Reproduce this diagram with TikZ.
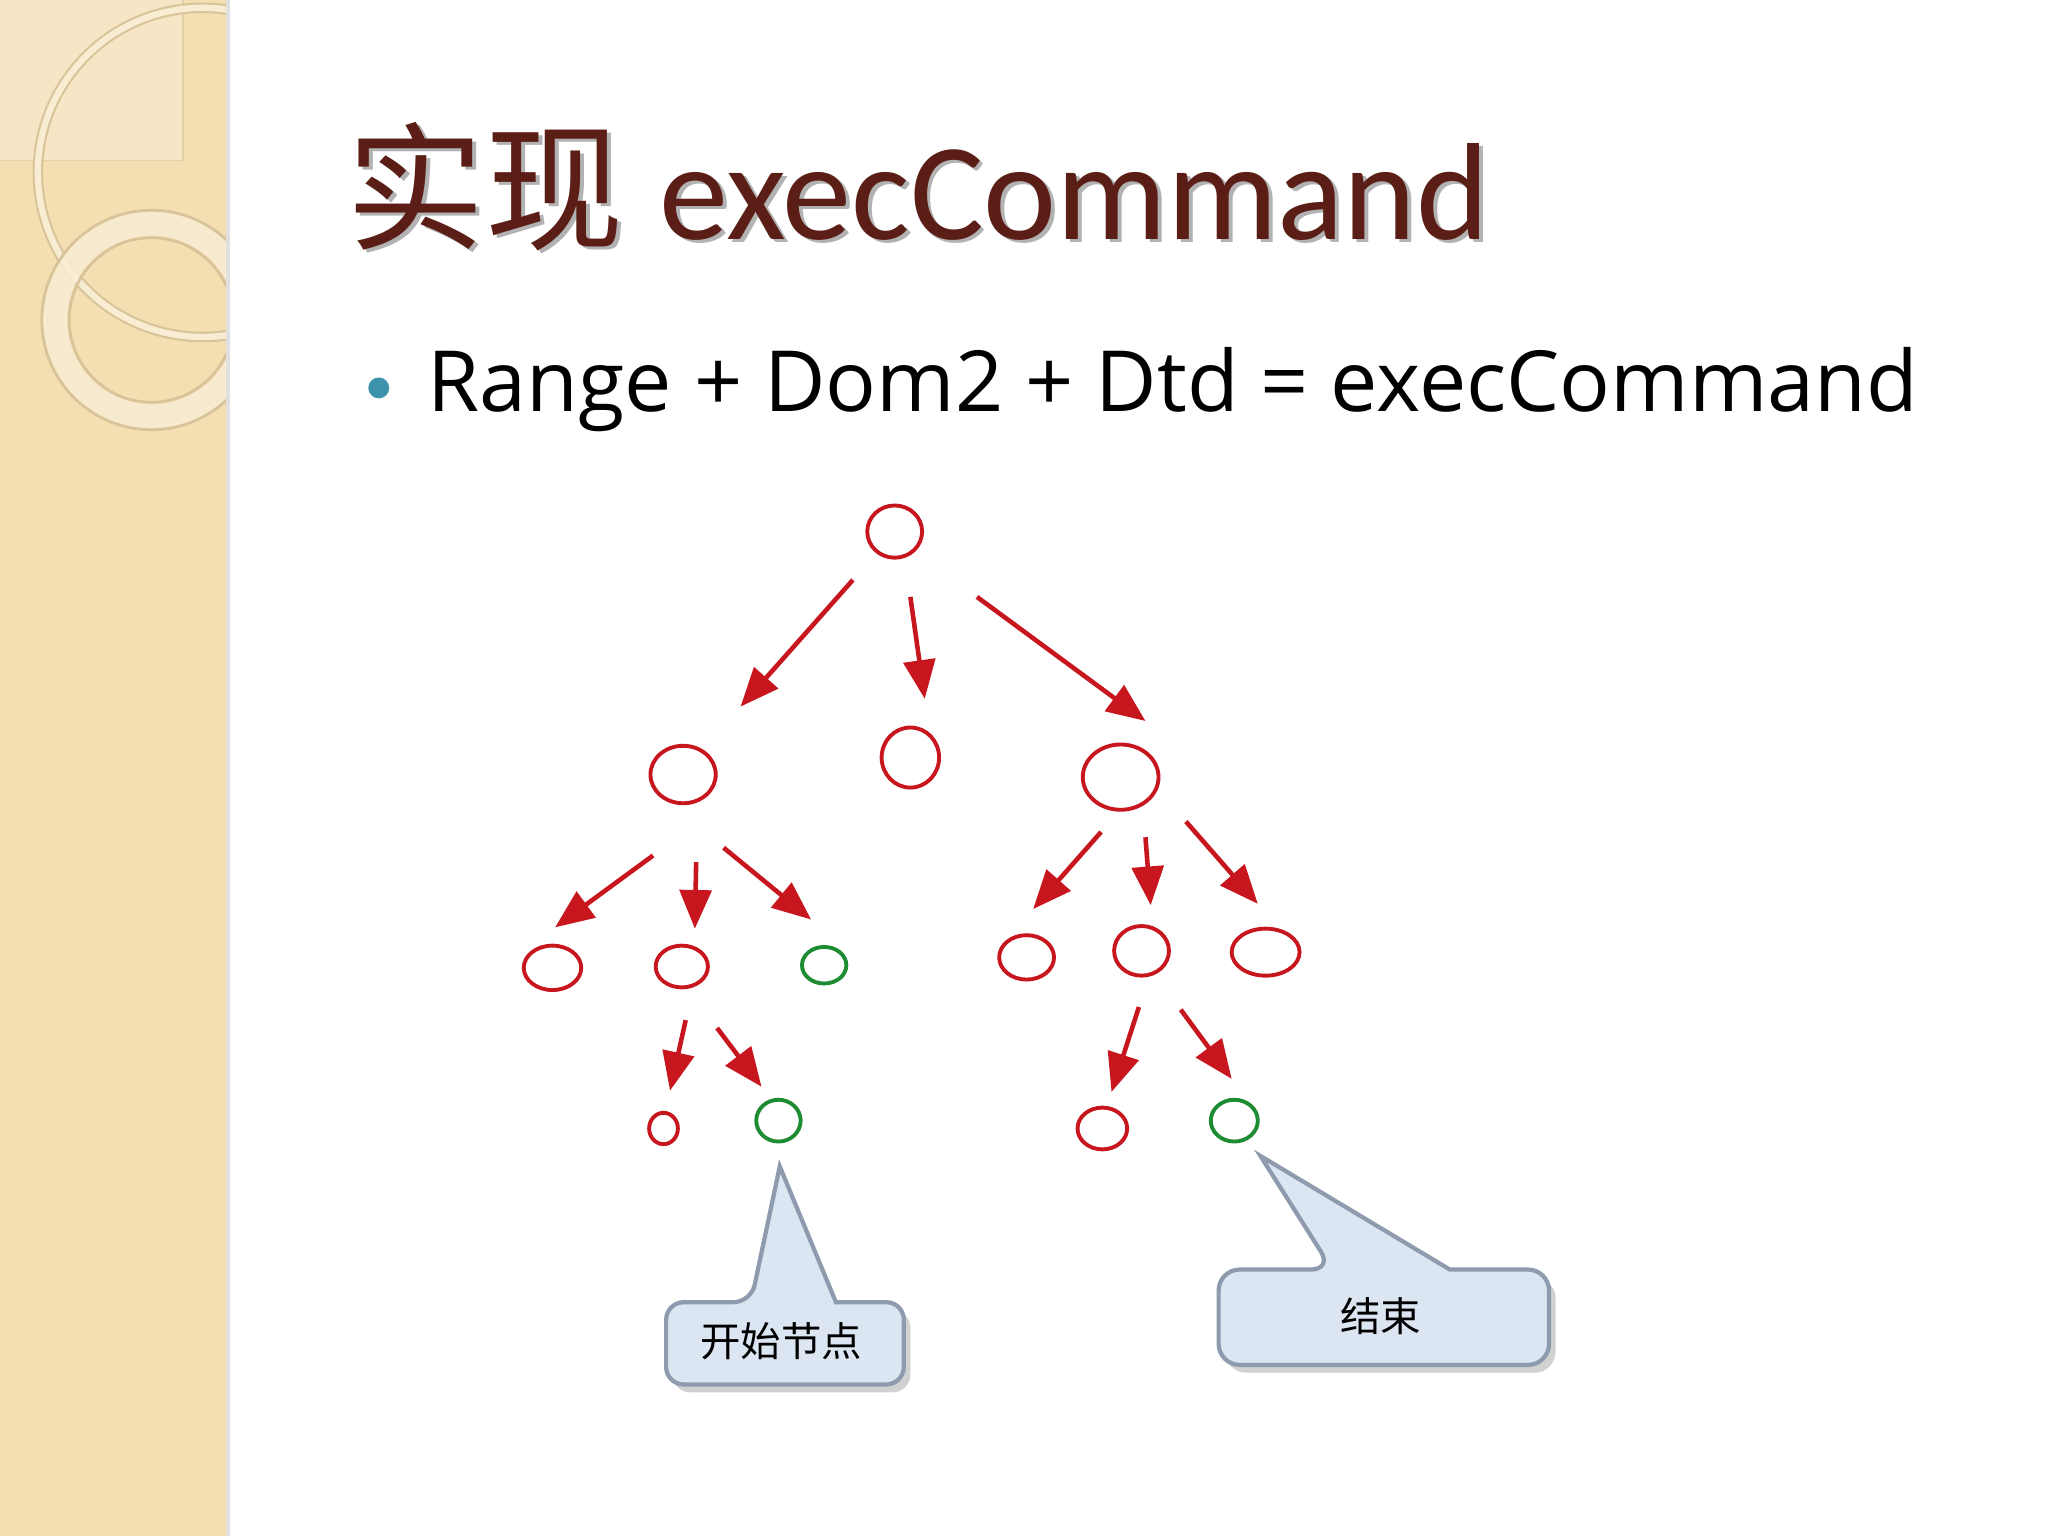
\documentclass[tikz,border=0pt]{standalone}
\usepackage{fontspec}
\usepackage{graphicx}
\setmainfont{Open Sans}
\newfontfamily\cjk{Noto Sans CJK SC}
\newfontfamily\titlefont{Carlito}
\usetikzlibrary{shapes.geometric,arrows.meta}
\definecolor{panel}{HTML}{F3DFB2}
\definecolor{ringc}{HTML}{F8ECD2}
\definecolor{ringe}{HTML}{D9C49A}
\definecolor{ttl}{HTML}{5A1E16}
\definecolor{nred}{HTML}{C8161E}
\definecolor{ngreen}{HTML}{1E8C32}
\definecolor{bul}{HTML}{3C93AB}
\definecolor{callf}{HTML}{DCE6F2}
\definecolor{calle}{HTML}{8E9AAE}
\tikzset{
  nd/.style 2 args={ellipse,inner sep=0pt,line width=1.1pt,
    minimum width={#1*0.026122cm},minimum height={#2*0.026122cm}},
  rn/.style={draw=nred},
  gn/.style={draw=ngreen},
  arr/.style={draw=nred,line width=1.3pt,-{Triangle[length=11pt,width=9pt]}},
  callout/.style={fill=callf,draw=calle,line width=1.2pt},
}
\begin{document}
\begin{tikzpicture}[x=0.013061cm,y=-0.013061cm]
\useasboundingbox (0,0) rectangle (1568,1176);
\fill[white] (0,0) rectangle (1568,1176);
% left panel
\begin{scope}
\clip (0,0) rectangle (173,1176);
\fill[panel] (0,0) rectangle (173,1176);
\fill[ringc,opacity=0.6,draw=ringe] (-5,-5) rectangle (140,123);
\draw[ringe,line width=3pt] (155,132) circle (126);
\draw[ringc,line width=1.8pt] (155,132) circle (126);
\draw[ringc,line width=7pt,opacity=0.9] (116,245) circle (74);
\draw[ringe,line width=0.8pt] (116,245) circle (84);
\draw[ringe,line width=0.8pt] (116,245) circle (63);
\end{scope}
\fill[black!12] (173,0) rectangle (176,1176);
% title
\node[anchor=base west,text=black!30,inner sep=0] at (268,186) {\resizebox{325pt}{!}{{\cjk 实现}\ \titlefont execCommand}};
\node[anchor=base west,text=ttl,inner sep=0] (title) at (265,183) {\resizebox{325pt}{!}{{\cjk 实现}\ \titlefont execCommand}};
% bullet
\fill[bul] (290,297) circle (8);
\node[anchor=base west,inner sep=0] (bline) at (327,315) {\resizebox{424pt}{!}{Range + Dom2 + Dtd = execCommand}};
% tree nodes
\node[nd={21}{20},rn] (r) at (685,407) {};
\node[nd={25}{22},rn] (a) at (523,593) {};
\node[nd={22}{23},rn] (b) at (697,580) {};
\node[nd={29}{25},rn] (c) at (858,595) {};
\node[nd={22}{17},rn] (a1) at (423,741) {};
\node[nd={20}{16},rn] (a2) at (522,740) {};
\node[nd={17}{14},gn] (a3) at (631,739) {};
\node[nd={21}{17},rn] (c1) at (786,733) {};
\node[nd={21}{19},rn] (c2) at (874,728) {};
\node[nd={26}{18},rn] (c3) at (969,729) {};
\node[nd={11}{12},rn] (a21) at (508,864) {};
\node[nd={17}{16},gn] (a22) at (596,858) {};
\node[nd={19}{16},rn] (c21) at (844,864) {};
\node[nd={18}{16},gn] (c22) at (945,858) {};
% arrow end points
\coordinate (s1) at (653,444); \coordinate (e1) at (567,541);
\coordinate (s2) at (697,457); \coordinate (e2) at (708,535);
\coordinate (s3) at (748,457); \coordinate (e3) at (877,552);
\coordinate (s4) at (500,655); \coordinate (e4) at (425,710);
\coordinate (s5) at (533,660); \coordinate (e5) at (532,711);
\coordinate (s6) at (554,649); \coordinate (e6) at (621,704);
\coordinate (s7) at (843,637); \coordinate (e7) at (791,696);
\coordinate (s8) at (877,641); \coordinate (e8) at (881,693);
\coordinate (s9) at (908,629); \coordinate (e9) at (963,692);
\coordinate (s10) at (525,781); \coordinate (e10) at (513,835);
\coordinate (s11) at (549,787); \coordinate (e11) at (583,832);
\coordinate (s12) at (872,771); \coordinate (e12) at (851,836);
\coordinate (s13) at (904,773); \coordinate (e13) at (943,826);
\foreach \i in {1,...,13} {\draw[arr] (s\i) -- (e\i);}
% callouts
\coordinate (p1) at (597,893);
\coordinate (p2) at (965,885);
\fill[black!18,rounded corners=5pt] (515,1003) rectangle (697,1066);
\path[callout,rounded corners=5pt] (510,997) -- (575,997) [sharp corners]-- (p1) -- (640,997) [rounded corners=5pt]-- (692,997) -- (692,1060) -- (510,1060) -- cycle;
\node[font=\cjk,scale=1.15] (t1) at (598,1027) {开始节点};
\fill[black!18,rounded corners=6pt] (938,978) rectangle (1191,1051);
\path[callout,rounded corners=6pt] (933,972) -- (1020,972) [sharp corners]-- (p2) -- (1110,972) [rounded corners=6pt]-- (1186,972) -- (1186,1045) -- (933,1045) -- cycle;
\node[font=\cjk,scale=1.15] (t2) at (1057,1008) {结束};
\end{tikzpicture}
\end{document}
